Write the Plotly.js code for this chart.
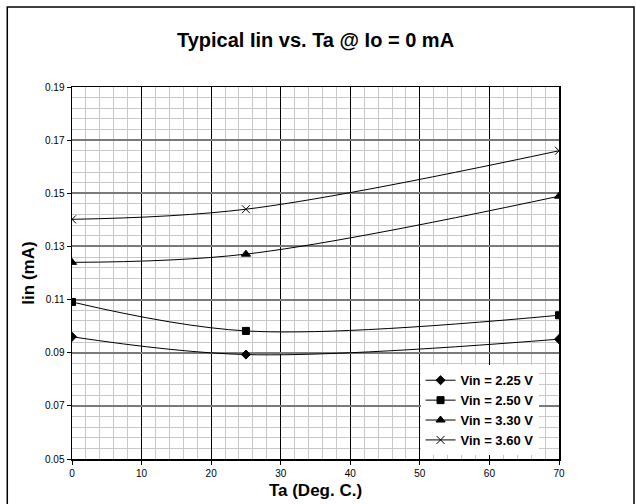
<!DOCTYPE html>
<html>
<head>
<meta charset="utf-8">
<script src="https://cdn.plot.ly/plotly-3.0.1.min.js"></script>
<style>html,body{margin:0;padding:0;background:#fff;}#chart{width:636px;height:504px;}</style>
</head>
<body>
<div id="chart"></div>
<script>
// Data
const temps = [0, 25, 70];
const vin225 = [0.0960, 0.0893, 0.0951];
const vin250 = [0.1091, 0.0982, 0.1041];
const vin330 = [0.1240, 0.1271, 0.1489];
const vin360 = [0.1402, 0.1440, 0.1660];
const seriesNames = ["Vin = 2.25 V", "Vin = 2.50 V", "Vin = 3.30 V", "Vin = 3.60 V"];
const xTickVals = [0, 10, 20, 30, 40, 50, 60, 70];
const yTickVals = [0.05, 0.07, 0.09, 0.11, 0.13, 0.15, 0.17, 0.19];

const FONT = "Liberation Sans, Arial, sans-serif";
const symbols = ["diamond", "square", "triangle-up", "x-thin-open"];
const sizes = [7, 7, 8, 8];
const ys = [vin225, vin250, vin330, vin360];

const traces = ys.map((y, i) => ({
  x: temps, y: y, name: "<b>" + seriesNames[i] + "</b>", type: "scatter", mode: "lines+markers",
  line: {color: "#000", width: 1, shape: "spline", smoothing: 1},
  marker: {symbol: symbols[i], size: sizes[i], color: "#000", line: {color: "#000", width: 1}}
}));

const layout = {
  width: 636, height: 504,
  margin: {l: 72, r: 77, t: 87, b: 45},
  paper_bgcolor: "#fff", plot_bgcolor: "#fff",
  font: {family: FONT, color: "#000"},
  title: {text: "<b>Typical Iin vs. Ta @ Io = 0 mA</b>", font: {family: FONT, size: 20, color: "#000"},
          x: 0.5, xref: "paper", y: 0.92, yref: "container", yanchor: "middle"},
  xaxis: {
    range: [0, 70], tickvals: xTickVals, ticktext: xTickVals.map(String),
    ticks: "outside", ticklen: 4, tickcolor: "#000", tickfont: {size: 10, family: FONT},
    showgrid: true, gridcolor: "#000", gridwidth: 1,
    minor: {dtick: 2, tick0: 0, showgrid: true, gridcolor: "#c8c8c8", gridwidth: 1, ticks: ""},
    showline: true, linecolor: "#000", linewidth: 1.5, mirror: true, zeroline: false,
    title: {text: "<b>Ta (Deg. C.)</b>", font: {size: 17, family: FONT}, standoff: 6},
    fixedrange: true
  },
  yaxis: {
    range: [0.05, 0.19], tickvals: yTickVals, ticktext: yTickVals.map(v => v.toFixed(2)),
    ticks: "outside", ticklen: 4, tickcolor: "#000", tickfont: {size: 10, family: FONT},
    showgrid: true, gridcolor: "#7a7a7a", gridwidth: 2,
    minor: {dtick: 0.004, tick0: 0.05, showgrid: true, gridcolor: "#c8c8c8", gridwidth: 1, ticks: ""},
    showline: true, linecolor: "#000", linewidth: 1.5, mirror: true, zeroline: false,
    title: {text: "<b>Iin (mA)</b>", font: {size: 17, family: FONT}, standoff: 6},
    fixedrange: true
  },
  legend: {
    x: 0.958, xanchor: "right", y: 0.01, yanchor: "bottom",
    bgcolor: "#fff", borderwidth: 0, font: {size: 13, family: FONT, color: "#000"},
    itemwidth: 30, tracegroupgap: 0
  },
  showlegend: true,
  shapes: [
    {type: "path", xref: "paper", yref: "paper",
     path: "M -0.1329,-0.2 L -0.1329,1.2152 L 1.154,1.2152 L 1.154,-0.2",
     line: {color: "#000", width: 1.5}}
  ]
};

Plotly.newPlot("chart", traces, layout, {displayModeBar: false, staticPlot: true});
</script>
</body>
</html>
